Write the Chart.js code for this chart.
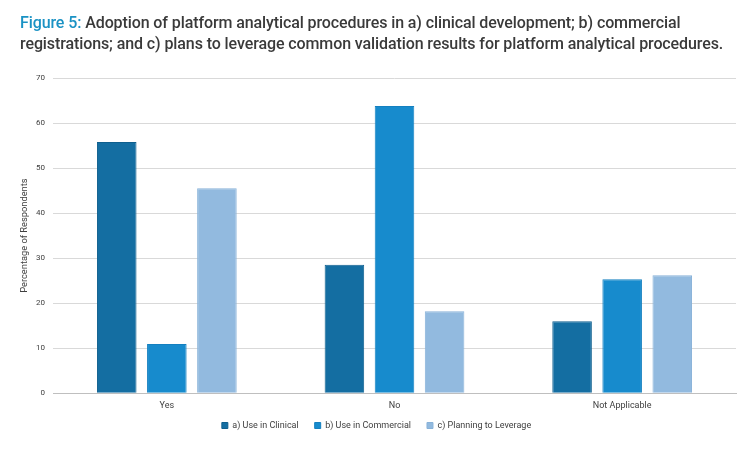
<!DOCTYPE html>
<html><head><meta charset="utf-8">
<script src="https://cdn.jsdelivr.net/npm/chart.js@4"></script>
<style>
html,body{margin:0;padding:0;background:#fff;width:750px;height:450px;overflow:hidden}
#wrap{position:relative;width:750px;height:450px}
#title{position:absolute;left:20px;top:12px;width:720px;font-family:Roboto,"Noto Sans",sans-serif;font-weight:500;font-size:16px;line-height:21px;color:#3a3a3a;letter-spacing:-0.1px}
#title .fig{color:#1a92c4}
canvas{position:absolute;left:0;top:0}
</style></head>
<body><div id="wrap">
<canvas id="c" width="750" height="450"></canvas>
<div id="title"><span class="fig">Figure 5:</span> Adoption of platform analytical procedures in a) clinical development; b) commercial registrations; and c) plans to leverage common validation results for platform analytical procedures.</div>
</div>
<script>
const categories = ["Yes", "No", "Not Applicable"];
const seriesNames = ["a) Use in Clinical", "b) Use in Commercial", "c) Planning to Leverage"];
const clinical = [55.8, 28.5, 16.0];
const commercial = [10.9, 63.8, 25.3];
const leverage = [45.5, 18.2, 26.2];
const yTicks = [0, 10, 20, 30, 40, 50, 60, 70];

const colors = ["#146ea2", "#178bcd", "#92badf"];
const borders = ["#0f5f8e", "#1480c0", "#88b2d9"];
const dataSets = [clinical, commercial, leverage];
const FONT = 'Roboto, "Noto Sans", sans-serif';
const LEGEND_PAD = 16;

const legendShift = {
  id: 'legendShift',
  afterLayout(chart) {
    const lg = chart.legend;
    if (lg) { const d = LEGEND_PAD - 3; lg.top -= d; lg.height += d; }
  }
};

new Chart(document.getElementById('c'), {
  type: 'bar',
  data: {
    labels: categories,
    datasets: dataSets.map((d, i) => ({
      label: seriesNames[i],
      data: d,
      backgroundColor: colors[i],
      borderColor: borders[i],
      borderWidth: 1,
      barPercentage: 0.79,
      categoryPercentage: 0.66
    }))
  },
  plugins: [legendShift],
  options: {
    responsive: false,
    animation: false,
    devicePixelRatio: 1,
    layout: { padding: { top: 78, right: 14, left: 17, bottom: 10 } },
    plugins: {
      legend: {
        position: 'bottom',
        maxHeight: 22,
        labels: {
          boxWidth: 6, boxHeight: 6, padding: LEGEND_PAD,
          color: '#404040',
          font: { family: FONT, size: 9 }
        }
      },
      title: { display: false },
      tooltip: { enabled: false }
    },
    scales: {
      x: {
        grid: { display: false, drawTicks: false },
        border: { color: '#bfbfbf', width: 1 },
        ticks: { color: '#404040', padding: 7, font: { family: FONT, size: 9 } }
      },
      y: {
        min: 0, max: 70,
        afterBuildTicks: (ax) => { ax.ticks = yTicks.map(v => ({ value: v })); },
        afterFit: (ax) => { ax.width = 36; },
        grid: { color: '#d9d9d9', drawTicks: false, lineWidth: 1 },
        border: { display: false },
        ticks: { color: '#404040', padding: 8, font: { family: FONT, size: 8 } },
        title: { display: true, text: 'Percentage of Respondents', color: '#404040', padding: { top: 2, bottom: 0 }, font: { family: FONT, size: 9.3 } }
      }
    }
  }
});
</script>
</body></html>
